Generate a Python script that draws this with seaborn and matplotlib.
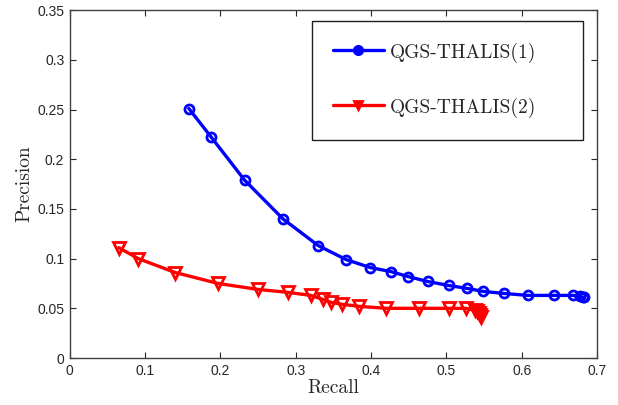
import matplotlib
matplotlib.use("Agg")
import matplotlib.pyplot as plt
import seaborn as sns

# values
recall_1 = [0.158, 0.188, 0.232, 0.283, 0.330, 0.367, 0.399, 0.426, 0.449, 0.475,
            0.503, 0.528, 0.549, 0.576, 0.608, 0.643, 0.668, 0.678, 0.681, 0.683]
precision_1 = [0.251, 0.222, 0.179, 0.140, 0.113, 0.099, 0.091, 0.087, 0.082, 0.077,
               0.073, 0.070, 0.067, 0.065, 0.063, 0.063, 0.063, 0.062, 0.061, 0.061]

recall_2 = [0.065, 0.091, 0.140, 0.197, 0.250, 0.290, 0.320, 0.336, 0.347, 0.362,
            0.384, 0.420, 0.464, 0.503, 0.526, 0.538, 0.541, 0.543, 0.544, 0.546]
precision_2 = [0.111, 0.100, 0.086, 0.075, 0.069, 0.066, 0.063, 0.059, 0.056, 0.054,
               0.052, 0.050, 0.050, 0.050, 0.050, 0.048, 0.047, 0.045, 0.043, 0.041]

labels = ['QGS-THALIS(1)', 'QGS-THALIS(2)']

sns.set_style("ticks")
plt.rcParams['font.family'] = ['Liberation Sans', 'DejaVu Sans']
plt.rcParams['axes.unicode_minus'] = False

fig = plt.figure(figsize=(6.18, 4.05), dpi=100)
ax = fig.add_axes([0.113, 0.116, 0.853, 0.859])

sns.lineplot(x=recall_1, y=precision_1, ax=ax, sort=False, color='#0000ff', lw=2.4,
             marker='o', ms=6.5, mfc='none', mec='#0000ff', mew=2, label=labels[0])
sns.lineplot(x=recall_2, y=precision_2, ax=ax, sort=False, color='#ff0000', lw=2.4,
             marker='v', ms=8, mfc='none', mec='#ff0000', mew=2, label=labels[1])

ax.set_xlim(0, 0.7)
ax.set_ylim(0, 0.35)
ax.set_xticks([0, 0.1, 0.2, 0.3, 0.4, 0.5, 0.6, 0.7])
ax.set_yticks([0, 0.05, 0.1, 0.15, 0.2, 0.25, 0.3, 0.35])
ax.set_xticklabels(['0', '0.1', '0.2', '0.3', '0.4', '0.5', '0.6', '0.7'])
ax.set_yticklabels(['0', '0.05', '0.1', '0.15', '0.2', '0.25', '0.3', '0.35'])
ax.tick_params(direction='in', top=True, right=True, length=4, width=0.8,
               labelsize=10, colors='#262626', pad=4)
for s in ax.spines.values():
    s.set_visible(True)
    s.set_color('#404040')
    s.set_linewidth(1.0)

ax.set_xlabel('Recall', family='cmr10', fontsize=14, labelpad=1)
ax.set_ylabel('Precision', family='cmr10', fontsize=14, labelpad=3)

leg = ax.legend(loc='upper left', bbox_to_anchor=(0.459, 0.636, 0.515, 0.333),
                mode='expand', prop={'family': 'cmr10', 'size': 14},
                fancybox=False, framealpha=1, edgecolor='#202020',
                labelspacing=1.8, borderpad=1.1, handlelength=2.6,
                handleheight=1.0, handletextpad=0.3, borderaxespad=0)
leg.get_frame().set_linewidth(1.0)
for h in leg.legend_handles:
    h.set_markersize(6)
    h.set_markerfacecolor(h.get_color())

fig.savefig('out.png', dpi=100)
